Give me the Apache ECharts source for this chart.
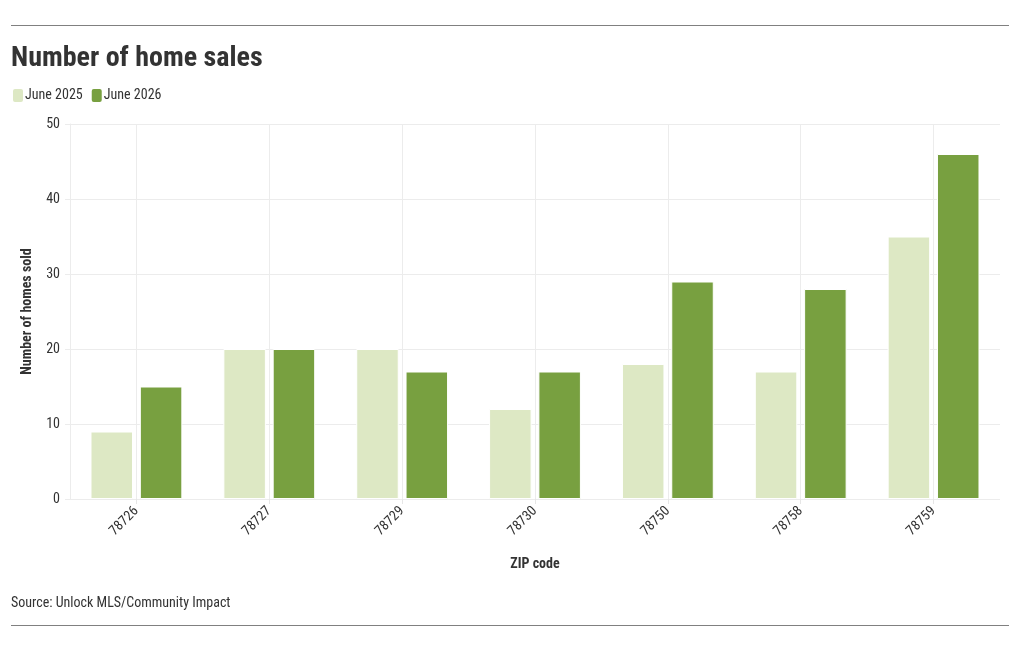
<!DOCTYPE html>
<html>
<head>
<meta charset="utf-8">
<script src="https://cdn.jsdelivr.net/npm/echarts@6/dist/echarts.min.js"></script>
<style>
  html, body { margin: 0; padding: 0; background: #fff; }
  #main { width: 1020px; height: 650px; }
</style>
</head>
<body>
<div id="main"></div>
<script>
var zipCodes = ['78726', '78727', '78729', '78730', '78750', '78758', '78759'];
var june2025 = [9, 20, 20, 12, 18, 17, 35];
var june2026 = [15, 20, 17, 17, 29, 28, 46];

var font = "'Roboto Condensed', 'Liberation Sans Narrow', 'Roboto', sans-serif";

var chart = echarts.init(document.getElementById('main'));

var option = {
  color: ['#dde8c4', '#78a040'],
  textStyle: { fontFamily: font },
  animation: false,
  title: {
    text: 'Number of home sales',
    left: 6,
    top: 40,
    textStyle: { fontFamily: font, fontSize: 28, fontWeight: 'bold', color: '#333' }
  },
  legend: {
    left: 6,
    top: 82,
    itemWidth: 12,
    itemHeight: 15,
    itemGap: 7,
    icon: 'roundRect',
    textStyle: { fontFamily: font, fontSize: 14, color: '#333', padding: [0, 0, 0, -4] },
    data: ['June 2025', 'June 2026']
  },
  grid: {
    left: 70,
    right: 20,
    top: 124,
    bottom: 151,
    containLabel: false
  },
  xAxis: {
    type: 'category',
    data: zipCodes,
    name: 'ZIP code',
    nameLocation: 'middle',
    nameGap: 58,
    nameTextStyle: { fontFamily: font, fontSize: 14, fontWeight: 'bold', color: '#333' },
    axisLine: { show: false },
    axisTick: { show: true, alignWithLabel: true, length: 5, lineStyle: { color: '#e6e6e6' } },
    axisLabel: { rotate: 45, fontSize: 14, color: '#333', margin: 10 },
    splitLine: { show: true, alignWithLabel: true, lineStyle: { color: '#ececec' } }
  },
  yAxis: {
    type: 'value',
    min: 0,
    max: 50,
    interval: 10,
    name: 'Number of homes sold',
    nameLocation: 'middle',
    nameGap: 36,
    nameTextStyle: { fontFamily: font, fontSize: 14, fontWeight: 'bold', color: '#333' },
    axisLine: { show: true, lineStyle: { color: '#ececec' } },
    axisTick: { show: true, length: 5, lineStyle: { color: '#ececec' } },
    axisLabel: { fontSize: 14, color: '#333', margin: 10 },
    splitLine: { show: true, lineStyle: { color: '#ececec' } }
  },
  series: [
    {
      name: 'June 2025',
      type: 'bar',
      data: june2025,
      barWidth: '32%',
      barGap: '16%',
      itemStyle: { borderColor: '#fff', borderWidth: 1 }
    },
    {
      name: 'June 2026',
      type: 'bar',
      data: june2026,
      barWidth: '32%',
      barGap: '16%',
      itemStyle: { borderColor: '#fff', borderWidth: 1 }
    }
  ],
  graphic: [
    { type: 'line', shape: { x1: 11, y1: 25.5, x2: 1009, y2: 25.5 }, style: { stroke: '#808080', lineWidth: 1 } },
    { type: 'line', shape: { x1: 11, y1: 625.5, x2: 1009, y2: 625.5 }, style: { stroke: '#808080', lineWidth: 1 } },
    {
      type: 'text', left: 11, top: 596,
      style: { text: 'Source: Unlock MLS/Community Impact', font: '14px ' + font, fill: '#333' }
    }
  ]
};

chart.setOption(option);
</script>
</body>
</html>
